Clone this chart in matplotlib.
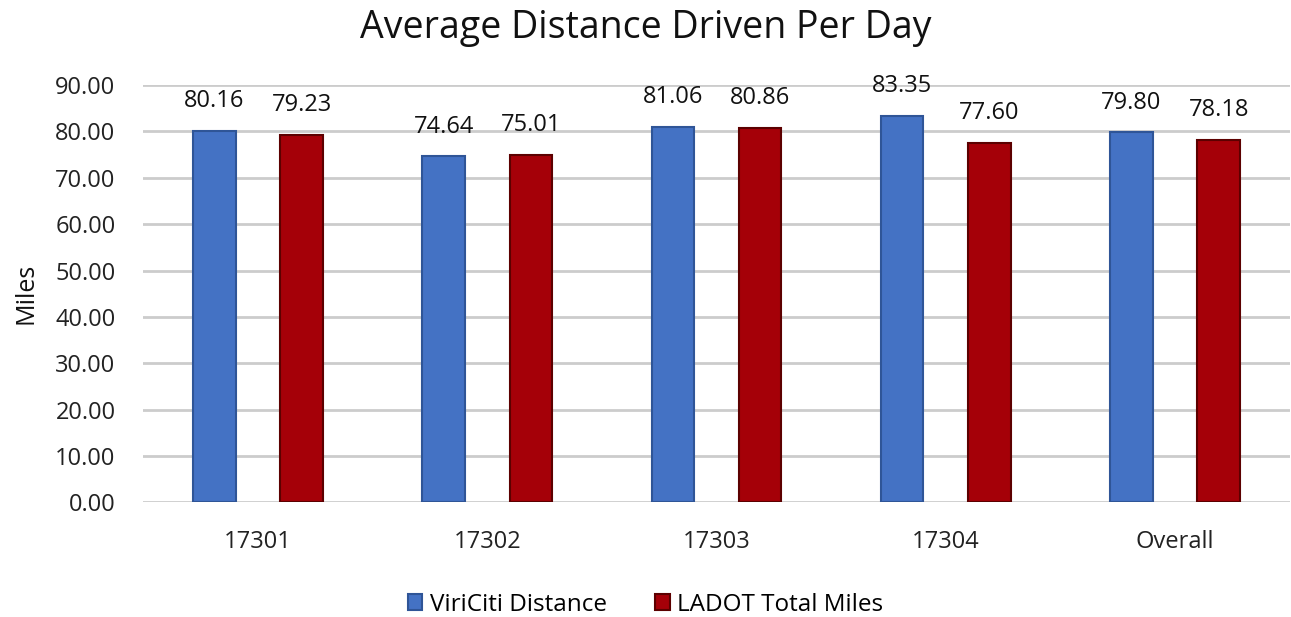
import matplotlib.pyplot as plt
import numpy as np

plt.rcParams['font.family'] = ['Open Sans', 'DejaVu Sans']

categories = ["17301", "17302", "17303", "17304", "Overall"]
viriciti = [80.16, 74.64, 81.06, 83.35, 79.80]
ladot = [79.23, 75.01, 80.86, 77.60, 78.18]
y_ticks = [0, 10, 20, 30, 40, 50, 60, 70, 80, 90]

fig = plt.figure(figsize=(12.91, 6.17), dpi=100)
ax = fig.add_axes([0.111, 0.186, 0.888, 0.676])

x = np.arange(len(categories))
off = 0.19
w = 0.185
b1 = ax.bar(x - off, viriciti, w, color="#4472C4", edgecolor="#2F5597", linewidth=1.5,
            label="ViriCiti Distance", zorder=3)
b2 = ax.bar(x + off, ladot, w, color="#A50008", edgecolor="#5C0000", linewidth=1.5,
            label="LADOT Total Miles", zorder=3)

for bars in (b1, b2):
    for r in bars:
        ax.text(r.get_x() + r.get_width() / 2, r.get_height() + 6.4, f"{r.get_height():.2f}",
                ha="center", va="center", fontsize=17, color="#111111")

ax.set_xlim(-0.5, len(categories) - 0.5)
ax.set_ylim(0, 90)
ax.set_yticks(y_ticks)
ax.set_yticklabels([f"{v:.2f}" for v in y_ticks])
ax.set_xticks(x)
ax.set_xticklabels(categories)
ax.tick_params(axis="both", length=0, labelsize=17, colors="#222222")
ax.tick_params(axis="y", pad=20)
ax.tick_params(axis="x", pad=20)
ax.yaxis.grid(True, color="#CCCCCC", linewidth=2, zorder=0)
for s in ax.spines.values():
    s.set_visible(False)

ax.set_ylabel("Miles", fontsize=18, color="#111111", labelpad=12)
fig.suptitle("Average Distance Driven Per Day", fontsize=27, color="#111111", y=0.985)

fig.legend(handles=[b1, b2], loc="lower center", bbox_to_anchor=(0.5, -0.035), ncol=2,
           frameon=False, fontsize=17.5, handlelength=0.6, handleheight=0.6,
           columnspacing=2.0, handletextpad=0.3)

fig.savefig("out.png", dpi=100)
